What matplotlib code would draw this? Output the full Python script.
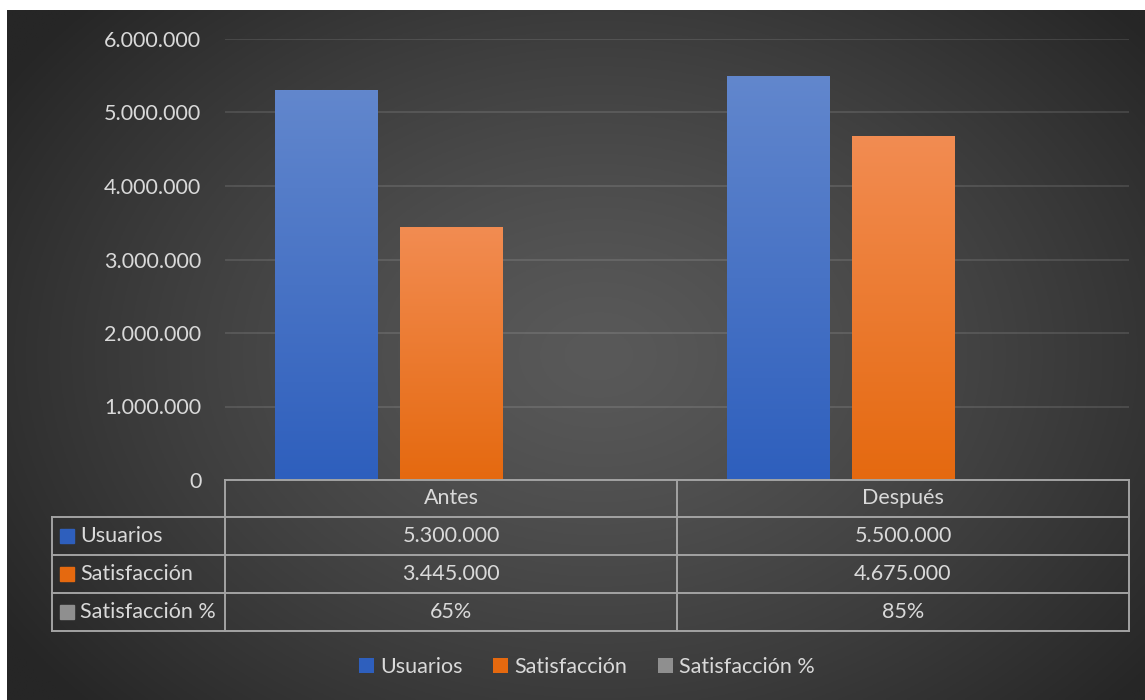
import numpy as np
import matplotlib
matplotlib.use('Agg')
import matplotlib.pyplot as plt
from matplotlib.patches import Patch
from matplotlib.lines import Line2D
from matplotlib.colors import to_rgb

plt.rcParams['font.family'] = ['Lato', 'DejaVu Sans']

categorias = ['Antes', 'Después']
series = ['Usuarios', 'Satisfacción', 'Satisfacción %']
usuarios = [5300000, 5500000]
satisfaccion = [3445000, 4675000]
satisfaccion_pct = [0.65, 0.85]
etiquetas_tabla = [['5.300.000', '5.500.000'],
                   ['3.445.000', '4.675.000'],
                   ['65%', '85%']]
yticks = [0, 1000000, 2000000, 3000000, 4000000, 5000000, 6000000]
ytick_labels = ['0', '1.000.000', '2.000.000', '3.000.000', '4.000.000', '5.000.000', '6.000.000']

# colores (arriba, abajo) de cada serie
degradados = [('#6287cd', '#2e5fbd'), ('#f28c52', '#e5690f'), ('#bdbdbd', '#8f8f8f')]
texto = '#d9d9d9'
linea_tabla = '#a3a3a3'
fs = 15.5

W, H = 1145, 700
fig = plt.figure(figsize=(W / 100, H / 100), dpi=100)
fig.patch.set_facecolor('white')

def fx(x):
    return x / W

def fy(y):
    return 1 - y / H

# fondo oscuro con degradado radial
bg = fig.add_axes([fx(7), 0, fx(W - 7), fy(10)])
bg.set_axis_off()
yy, xx = np.mgrid[0:1:300j, 0:1:500j]
r = np.sqrt(((xx - 0.52) / 0.62) ** 2 + ((yy - 0.5) / 0.75) ** 2)
r = np.clip(r, 0, 1)
c0 = np.array(to_rgb('#595959'))
c1 = np.array(to_rgb('#262626'))
img = c0 + (c1 - c0) * r[..., None] ** 1.3
bg.imshow(img, extent=[0, 1, 0, 1], aspect='auto', origin='lower')
bg.set_xlim(0, 1)
bg.set_ylim(0, 1)

# ejes del gráfico
x0, x1 = 225, 1129
ytop, ybot = 39, 480
ax = fig.add_axes([fx(x0), fy(ybot), fx(x1 - x0), fy(ytop) - fy(ybot)])
ax.patch.set_alpha(0)
ax.set_xlim(-0.5, 1.5)
ax.set_ylim(0, 6000000)
for s in ax.spines.values():
    s.set_visible(False)
ax.set_xticks([])
ax.set_yticks(yticks)
ax.set_yticklabels(ytick_labels, color=texto, fontsize=fs)
ax.tick_params(axis='y', length=0, pad=17)
ax.grid(axis='y', color='white', alpha=0.13, linewidth=1.2)
ax.set_axisbelow(True)

x = np.arange(len(categorias))
ancho = 0.2257
paso = 0.2765
valores = [usuarios, satisfaccion, satisfaccion_pct]
grad = np.linspace(0, 1, 256)[:, None]
for i, vals in enumerate(valores):
    barras = ax.bar(x + (i - 1) * paso, vals, ancho, color=degradados[i][1], zorder=2)
    top = np.array(to_rgb(degradados[i][0]))
    bot = np.array(to_rgb(degradados[i][1]))
    for b in barras:
        bx, by = b.get_x(), b.get_y()
        bw, bh = b.get_width(), b.get_height()
        if bh <= 0:
            continue
        g = bot + (top - bot) * grad[..., None]
        g = np.repeat(g, 2, axis=1)
        im = ax.imshow(g, extent=[bx, bx + bw, by, by + bh], origin='lower',
                       aspect='auto', zorder=3)
        im.set_clip_path(b)
ax.set_xlim(-0.5, 1.5)
ax.set_ylim(0, 6000000)

# tabla de datos
def hline(y, xa, xb):
    fig.add_artist(Line2D([fx(xa), fx(xb)], [fy(y), fy(y)], color=linea_tabla, lw=1.4))

def vline(x, ya, yb):
    fig.add_artist(Line2D([fx(x), fx(x)], [fy(ya), fy(yb)], color=linea_tabla, lw=1.4))

filas = [480, 517, 555, 593, 631]
xl, xm = 52, 677
hline(filas[0], x0, x1)
for yv in filas[1:]:
    hline(yv, xl, x1)
vline(x0, filas[0], filas[-1])
vline(xm, filas[0], filas[-1])
vline(x1, filas[0], filas[-1])
vline(xl, filas[1], filas[-1])

centros = [(x0 + xm) / 2, (xm + x1) / 2]
yc = (filas[0] + filas[1]) / 2
for c, nombre in zip(centros, categorias):
    fig.text(fx(c), fy(yc), nombre, color=texto, fontsize=fs, ha='center', va='center')
for j, nombre in enumerate(series):
    yc = (filas[j + 1] + filas[j + 2]) / 2
    fig.add_artist(plt.Rectangle((fx(60), fy(yc + 7)), fx(14), 14 / H,
                                 color=degradados[j][1], transform=fig.transFigure))
    fig.text(fx(80), fy(yc), nombre, color=texto, fontsize=fs, ha='left', va='center')
    for c, etq in zip(centros, etiquetas_tabla[j]):
        fig.text(fx(c), fy(yc), etq, color=texto, fontsize=fs, ha='center', va='center')

# leyenda
handles = [Patch(facecolor=degradados[i][1], label=series[i]) for i in range(3)]
leg = fig.legend(handles=handles, loc='center', bbox_to_anchor=(fx(587), fy(667)),
                 ncol=3, frameon=False, fontsize=fs, handlelength=0.7, handleheight=0.7,
                 handletextpad=0.3, columnspacing=1.4)
for t in leg.get_texts():
    t.set_color(texto)

fig.savefig('out.png', dpi=100, facecolor=fig.get_facecolor())
